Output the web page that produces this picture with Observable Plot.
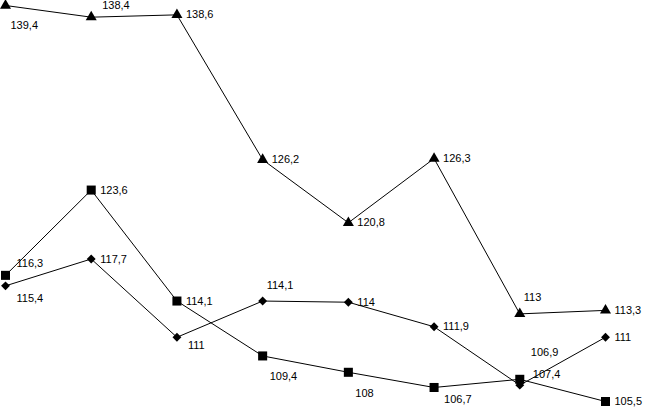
<!DOCTYPE html>
<html><head><meta charset="utf-8">
<script src="https://cdn.jsdelivr.net/npm/d3@7"></script>
<script src="https://cdn.jsdelivr.net/npm/@observablehq/plot@0.6"></script>
<style>html,body{margin:0;padding:0;background:#fff;overflow:hidden}</style>
</head><body><div id="chart"></div>
<script>
const periods = [1, 2, 3, 4, 5, 6, 7, 8];
const triangleValues = [139.4, 138.4, 138.6, 126.2, 120.8, 126.3, 113, 113.3];
const squareValues = [116.3, 123.6, 114.1, 109.4, 108, 106.7, 107.4, 105.5];
const diamondValues = [115.4, 117.7, 111, 114.1, 114, 111.9, 106.9, 111];
// label placement keywords (where the value label sits next to its marker)
const triangleSpots = ["lowRight", "aboveRight", "right", "right", "right", "right", "above", "right"];
const squareSpots = ["aboveRight", "right", "right", "below", "below", "belowNear", "upRight", "right"];
const diamondSpots = ["belowRight", "right", "belowRightNear", "above", "right", "right", "highAbove", "right"];

const offsets = {
  right: [9, 0],
  aboveRight: [11, -12],
  upRight: [13, -5],
  belowRight: [11, 13],
  belowRightNear: [11, 8],
  lowRight: [5, 20],
  above: [4, -16],
  below: [7, 21],
  belowNear: [10, 12],
  highAbove: [11, -33]
};

function rows(series, values, spots) {
  return values.map((v, i) => ({series, x: periods[i], value: v, spot: spots[i]}));
}
const data = [
  ...rows("triangle", triangleValues, triangleSpots),
  ...rows("square", squareValues, squareSpots),
  ...rows("diamond", diamondValues, diamondSpots)
];
const fmt = v => String(v).replace(".", ",");

const labelMarks = Object.keys(offsets).map(k =>
  Plot.text(data.filter(d => d.spot === k), {
    x: "x", y: "value", text: d => fmt(d.value),
    dx: offsets[k][0], dy: offsets[k][1], textAnchor: "start", fill: "black"
  })
);

const chart = Plot.plot({
  width: 646,
  height: 407,
  marginLeft: 5,
  marginRight: 41,
  marginTop: 5,
  marginBottom: 6,
  x: {domain: [1, 8], axis: null},
  y: {domain: [105.5, 139.4], axis: null},
  style: {fontFamily: "Arial, 'Liberation Sans', sans-serif", fontSize: "11px", background: "white", overflow: "visible"},
  marks: [
    Plot.line(data, {x: "x", y: "value", z: "series", stroke: "black", strokeWidth: 1}),
    Plot.dot(data.filter(d => d.series === "square"), {x: "x", y: "value", symbol: "square", r: 5.1, fill: "black", stroke: "none"}),
    Plot.dot(data.filter(d => d.series === "diamond"), {x: "x", y: "value", symbol: "diamond2", r: 4.0, fill: "black", stroke: "none"}),
    Plot.dot(data.filter(d => d.series === "triangle"), {x: "x", y: "value", symbol: "triangle", r: 4.1, fill: "black", stroke: "none"}),
    ...labelMarks
  ]
});
document.getElementById("chart").appendChild(chart);
</script>
</body></html>
